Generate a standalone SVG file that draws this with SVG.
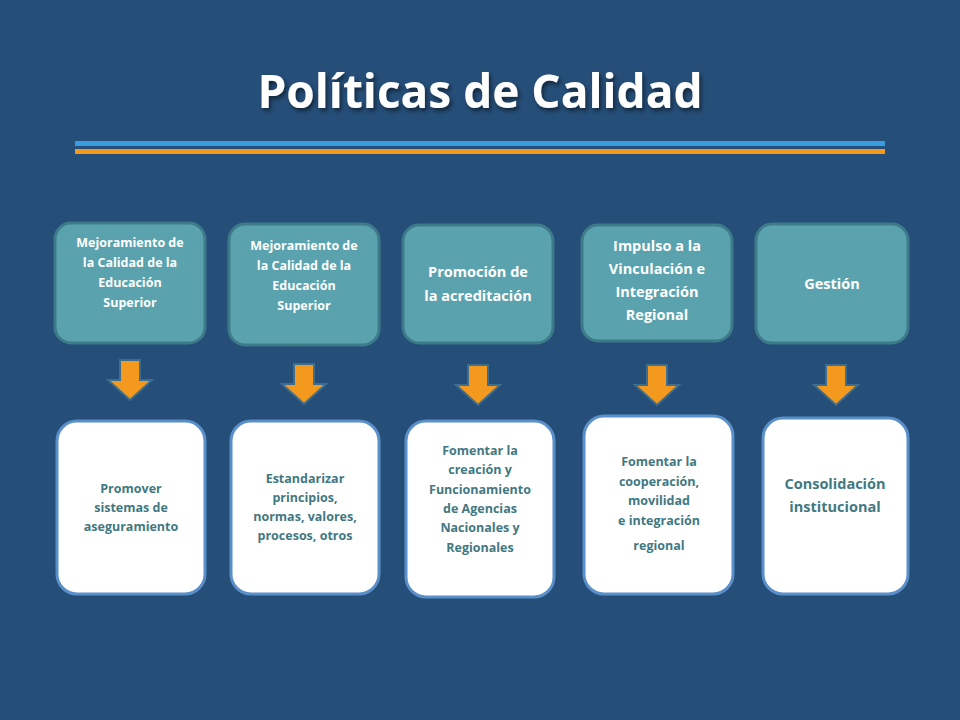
<svg xmlns="http://www.w3.org/2000/svg" width="960" height="720" viewBox="0 0 960 720">
<defs>
<style>
.t{fill:#5aa3ae;stroke:#3d7a8a;stroke-width:3}
.b{fill:#fff;stroke:#5b8fc9;stroke-width:3}
.tt{font-family:"Open Sans","DejaVu Sans",sans-serif;font-weight:bold;fill:#fff;text-anchor:middle}
.bt{font-family:"Open Sans","DejaVu Sans",sans-serif;font-weight:bold;fill:#417882;text-anchor:middle}
.ar{fill:#f39a1e;stroke:#3d6d8f;stroke-width:2}
</style>
<filter id="sh" x="-10%" y="-10%" width="130%" height="140%"><feDropShadow dx="2" dy="3" stdDeviation="2" flood-color="#000" flood-opacity="0.5"/></filter>
<path id="arr" d="M-10,-20 H10 V0 H22 L0,20 L-22,0 H-10 Z"/>
</defs>
<rect width="960" height="720" fill="#254e78"/>
<text x="480" y="108" font-family="'Open Sans','DejaVu Sans',sans-serif" font-weight="bold" font-size="46" fill="#fff" text-anchor="middle" filter="url(#sh)">Políticas de Calidad</text>
<rect x="75" y="141" width="810" height="5" fill="#3a9de0"/>
<rect x="75" y="149" width="810" height="5" fill="#f39a1e"/>
<g id="top1"><rect class="t" x="55" y="223" width="150" height="120" rx="16"/>
<text class="tt" font-size="12.5"><tspan x="130" y="247">Mejoramiento de</tspan><tspan x="130" y="267">la Calidad de la</tspan><tspan x="130" y="287">Educación</tspan><tspan x="130" y="307">Superior</tspan></text></g>
<g id="top2"><rect class="t" x="229" y="224" width="150" height="121" rx="16"/>
<text class="tt" font-size="12.5"><tspan x="304" y="250">Mejoramiento de</tspan><tspan x="304" y="270">la Calidad de la</tspan><tspan x="304" y="290">Educación</tspan><tspan x="304" y="310">Superior</tspan></text></g>
<g id="top3"><rect class="t" x="403" y="225" width="150" height="118" rx="16"/>
<text class="tt" font-size="14.5"><tspan x="478" y="277">Promoción de</tspan><tspan x="478" y="301">la acreditación</tspan></text></g>
<g id="top4"><rect class="t" x="582" y="225" width="150" height="116" rx="16"/>
<text class="tt" font-size="14.5"><tspan x="657" y="251">Impulso a la</tspan><tspan x="657" y="274">Vinculación e</tspan><tspan x="657" y="297">Integración</tspan><tspan x="657" y="320">Regional</tspan></text></g>
<g id="top5"><rect class="t" x="756" y="224" width="152" height="119" rx="16"/>
<text class="tt" font-size="14.5"><tspan x="832" y="289">Gestión</tspan></text></g>
<g id="connectors">
<use href="#arr" class="ar" x="130" y="380"/>
<use href="#arr" class="ar" x="304" y="384"/>
<use href="#arr" class="ar" x="478" y="385"/>
<use href="#arr" class="ar" x="657" y="385"/>
<use href="#arr" class="ar" x="836" y="385"/>
</g>
<g id="bot1"><rect class="b" x="57" y="421" width="148" height="173" rx="20"/>
<text class="bt" font-size="12.5"><tspan x="131" y="493">Promover</tspan><tspan x="131" y="512">sistemas de</tspan><tspan x="131" y="531">aseguramiento</tspan></text></g>
<g id="bot2"><rect class="b" x="231" y="421" width="148" height="173" rx="20"/>
<text class="bt" font-size="12.5"><tspan x="305" y="483">Estandarizar</tspan><tspan x="305" y="502">principios,</tspan><tspan x="305" y="521">normas, valores,</tspan><tspan x="305" y="540">procesos, otros</tspan></text></g>
<g id="bot3"><rect class="b" x="406" y="421" width="148" height="176" rx="20"/>
<text class="bt" font-size="12.5"><tspan x="480" y="455">Fomentar la</tspan><tspan x="480" y="474">creación y</tspan><tspan x="480" y="494">Funcionamiento</tspan><tspan x="480" y="513">de Agencias</tspan><tspan x="480" y="532">Nacionales y</tspan><tspan x="480" y="552">Regionales</tspan></text></g>
<g id="bot4"><rect class="b" x="584" y="416" width="149" height="178" rx="20"/>
<text class="bt" font-size="12.5"><tspan x="659" y="466">Fomentar la</tspan><tspan x="659" y="486">cooperación,</tspan><tspan x="659" y="505">movilidad</tspan><tspan x="659" y="525">e integración</tspan><tspan x="659" y="550">regional</tspan></text></g>
<g id="bot5"><rect class="b" x="763" y="418" width="145" height="176" rx="20"/>
<text class="bt" font-size="14.5"><tspan x="835" y="489">Consolidación</tspan><tspan x="835" y="512">institucional</tspan></text></g>
</svg>
